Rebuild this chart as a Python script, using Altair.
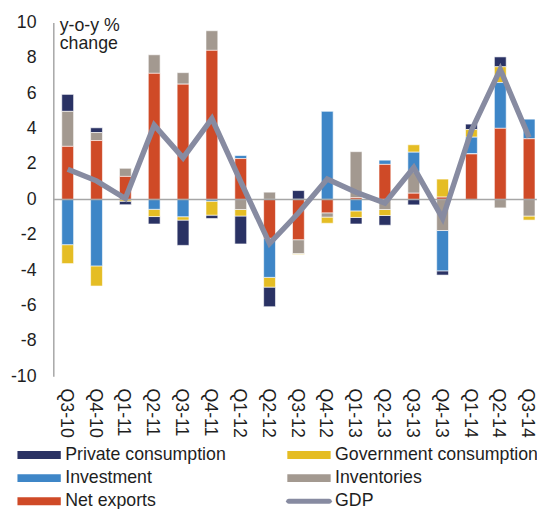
import altair as alt
import pandas as pd

quarters = ["Q3-10", "Q4-10", "Q1-11", "Q2-11", "Q3-11", "Q4-11", "Q1-12", "Q2-12",
            "Q3-12", "Q4-12", "Q1-13", "Q2-13", "Q3-13", "Q4-13", "Q1-14", "Q2-14", "Q3-14"]

private_consumption = [0.96, 0.27, -0.20, -0.42, -1.43, -0.19, -1.58, -1.11,
                       0.50, 0.00, -0.37, -0.55, -0.31, -0.24, 0.31, 0.56, 0.00]
government_consumption = [-1.07, -1.14, -0.10, -0.41, -0.19, -0.79, -0.37, -0.55,
                          -0.05, -0.35, -0.37, -0.34, 0.42, 1.02, 0.43, 0.89, -0.23]
investment = [-2.56, -3.76, 0.00, -0.56, -0.98, -0.10, 0.17, -2.21,
              0.00, 4.98, -0.65, 0.24, 1.12, -2.28, 0.95, 2.59, 1.11]
inventories = [1.98, 0.45, 0.46, 1.05, 0.65, 1.11, -0.57, 0.41,
               -0.78, -0.24, 2.60, -0.57, 1.20, -1.76, 0.00, -0.48, -0.94]
net_exports = [3.00, 3.33, 1.30, 7.13, 6.52, 8.43, 2.31, -2.20,
               -2.28, -0.76, 0.10, 1.98, 0.35, 0.13, 2.57, 4.02, 3.43]
gdp = [1.70, 1.05, 0.05, 4.20, 2.35, 4.57, 1.00, -2.50,
       -0.77, 1.15, 0.40, -0.20, 1.80, -1.07, 3.90, 7.35, 3.50]

y_ticks = [-10, -8, -6, -4, -2, 0, 2, 4, 6, 8, 10]

series_names = ["Private consumption", "Government consumption", "Investment",
                "Inventories", "Net exports", "GDP"]
series_colors = ["#2a3264", "#e5bd24", "#3e86c7", "#a39990", "#cf4a27", "#878ba1"]
stack_rank = ["Net exports", "Inventories", "Investment",
              "Government consumption", "Private consumption"]

components = {
    "Private consumption": private_consumption,
    "Government consumption": government_consumption,
    "Investment": investment,
    "Inventories": inventories,
    "Net exports": net_exports,
}

rows = []
for name, vals in components.items():
    for q, v in zip(quarters, vals):
        rows.append({"quarter": q, "series": name, "value": v, "ord": stack_rank.index(name)})
bars_df = pd.DataFrame(rows)
gdp_df = pd.DataFrame({"quarter": quarters, "value": gdp})
legend_df = pd.DataFrame({"series": series_names})

FONT = "Liberation Sans, Arial, Helvetica, sans-serif"
TEXT = "#1e1e1e"
AXIS_GREY = "#a6a6a6"

rect_path = "M-2.444,-0.444L2.444,-0.444L2.444,0.444L-2.444,0.444Z"
line_path = ("M-2.3,-0.28L2.3,-0.28L2.5,-0.2L2.59,0L2.5,0.2L2.3,0.28"
             "L-2.3,0.28L-2.5,0.2L-2.59,0L-2.5,-0.2Z")
shape_range = [rect_path] * 5 + [line_path]

color_scale = alt.Scale(domain=series_names, range=series_colors)
x_scale = alt.Scale(paddingInner=0.59, paddingOuter=0)
y_scale = alt.Scale(domain=[-10, 10], nice=False)

x_axis = alt.Axis(title=None, labelAngle=90, domain=False, ticks=False,
                  labelPadding=12, labelOverlap=False, labelOffset=-2)
y_axis = alt.Axis(title=None, values=y_ticks, labelExpr="'' + datum.value",
                  grid=False, ticks=False, domainColor=AXIS_GREY, domainWidth=1.5,
                  labelPadding=17.5, labelOverlap=False, labelSeparation=0,
                  labelBound=False, offset=8.6)

legend_layer = alt.Chart(legend_df).mark_point(filled=True).encode(
    x=alt.value(-2000), y=alt.value(-2000),
    color=alt.Color("series:N", scale=color_scale, legend=alt.Legend(
        title=None, orient="none", legendX=-32, legendY=430, columns=2,
        direction="horizontal", columnPadding=60, rowPadding=5.5, padding=0,
        labelLimit=400, labelOffset=17.5, symbolSize=324,
        symbolStrokeWidth=0, symbolOpacity=1)),
    shape=alt.Shape("series:N", scale=alt.Scale(domain=series_names, range=shape_range)),
)

bars = alt.Chart(bars_df).mark_bar(stroke="white", strokeWidth=0.6).encode(
    x=alt.X("quarter:N", sort=quarters, scale=x_scale, axis=x_axis),
    y=alt.Y("value:Q", stack="zero", scale=y_scale, axis=y_axis),
    color=alt.Color("series:N", scale=color_scale),
    order=alt.Order("ord:Q"),
)

zero_rule = alt.Chart(pd.DataFrame({"z": [0]})).mark_rule(
    color=AXIS_GREY, strokeWidth=1.5
).encode(y=alt.Y(datum=0, axis=y_axis), x=alt.value(-8.6), x2=alt.value(482.4))

gdp_line = alt.Chart(gdp_df).mark_line(color="#878ba1", strokeWidth=5.5).encode(
    x=alt.X("quarter:N", sort=quarters, axis=x_axis),
    y=alt.Y("value:Q", axis=y_axis),
)

title_text = alt.Chart(pd.DataFrame({"t": [0]})).mark_text(
    text=["y-o-y %", "change"], align="left", baseline="alphabetic",
    fontSize=18, lineHeight=18, font=FONT, color=TEXT
).encode(x=alt.value(-2.1), y=alt.value(8.5))

chart = alt.layer(legend_layer, bars, zero_rule, gdp_line, title_text).properties(
    width=480.5, height=359,
    autosize=alt.AutoSizeParams(type="none"),
    padding={"left": 54.6, "top": 11, "right": 2, "bottom": 131},
).configure_view(stroke=None).configure_axis(
    labelFontSize=18, labelFont=FONT, labelColor=TEXT, tickSize=0, labelOverlap=False
).configure_legend(
    labelFontSize=18, labelFont=FONT, labelColor=TEXT
)

chart.save("out.html", embed_options={"renderer": "svg", "actions": False})
